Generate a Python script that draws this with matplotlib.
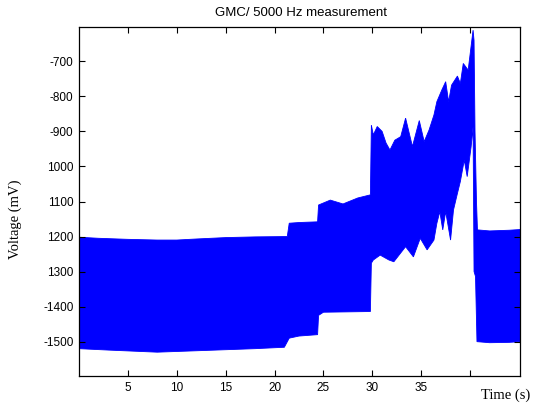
import numpy as np
import matplotlib.pyplot as plt

plt.rcParams['font.family'] = ['Liberation Sans', 'DejaVu Sans']

# upper edge of the oscillation band (time in s, voltage in mV)
t_top = [0.0, 2.0, 5.0, 8.0, 10.0, 12.0, 15.0, 18.0, 21.3, 21.5, 22.5, 24.4,
         24.5, 25.7, 27.0, 28.5, 29.8, 29.9, 30.1, 30.5, 31.0, 31.4, 31.8,
         32.3, 32.9, 33.4, 34.1, 34.8, 35.3, 35.8, 36.3, 36.6, 37.1, 37.5,
         37.8, 38.1, 38.7, 39.0, 39.3, 39.8, 40.3, 40.4, 40.5, 40.65, 40.75,
         42.0, 44.0, 45.1]
v_top = [-1202, -1205, -1208, -1210, -1210, -1207, -1203, -1201, -1200, -1162,
         -1160, -1158, -1110, -1096, -1107, -1090, -1081, -882, -910, -886,
         -900, -933, -953, -925, -915, -862, -943, -869, -929, -896, -853,
         -815, -782, -758, -815, -768, -742, -763, -706, -725, -611, -640,
         -901, -1100, -1181, -1184, -1182, -1180]

# lower edge of the oscillation band
t_bot = [0.0, 3.0, 8.0, 10.0, 14.0, 18.0, 21.0, 21.5, 22.5, 24.4, 24.5, 25.0,
         29.8, 29.9, 30.1, 30.8, 31.7, 32.2, 33.4, 34.2, 34.9, 35.6, 36.3,
         36.6, 36.9, 37.2, 37.5, 38.0, 38.3, 38.7, 39.0, 39.4, 39.7, 40.1,
         40.3, 40.4, 40.55, 40.7, 42.0, 44.0, 45.1]
v_bot = [-1520, -1524, -1530, -1528, -1524, -1520, -1516, -1490, -1484, -1480,
         -1425, -1416, -1414, -1276, -1267, -1253, -1267, -1272, -1229, -1258,
         -1205, -1238, -1210, -1162, -1129, -1181, -1129, -1210, -1124, -1077,
         -1043, -982, -1029, -944, -887, -1300, -1314, -1500, -1503, -1502,
         -1500]

xticks = [5, 10, 15, 20, 25, 30, 35, 40]
xtick_labels = ['5', '10', '15', '20', '25', '30', '35', '']
yticks = [-700, -800, -900, -1000, -1100, -1200, -1300, -1400, -1500]
ytick_labels = ['-700', '-800', '-900', '1000', '1100', '1200', '1300',
                '-1400', '-1500']

fig = plt.figure(figsize=(5.33, 4.08), dpi=100)
ax = fig.add_axes([79 / 533, 32 / 408, 441 / 533, 349 / 408])

band_t = np.r_[t_top, t_bot[::-1]]
band_v = np.r_[v_top, v_bot[::-1]]
ax.fill(band_t, band_v, facecolor='#0000ff', edgecolor='#0000ff', lw=0.6)

ax.set_xlim(0, 45.1)
ax.set_ylim(-1598, -602)
ax.set_xticks(xticks)
ax.set_xticklabels(xtick_labels)
ax.set_yticks(yticks)
ax.set_yticklabels(ytick_labels)
ax.tick_params(direction='in', top=True, right=True, length=4, width=0.8,
               labelsize=8.5, pad=4)
for s in ax.spines.values():
    s.set_linewidth(0.9)

fig.text(301 / 533, 1 - 13 / 408, 'GMC/ 5000 Hz measurement',
         ha='center', va='center', fontsize=9.5)
fig.text(15 / 533, 1 - 219 / 408, 'Voltage (mV)', rotation=90,
         ha='center', va='center', fontsize=10.5, family='Liberation Serif')
fig.text(506 / 533, 1 - 395 / 408, 'Time (s)',
         ha='center', va='center', fontsize=10.5, family='Liberation Serif')

fig.savefig('out.png', dpi=100)
